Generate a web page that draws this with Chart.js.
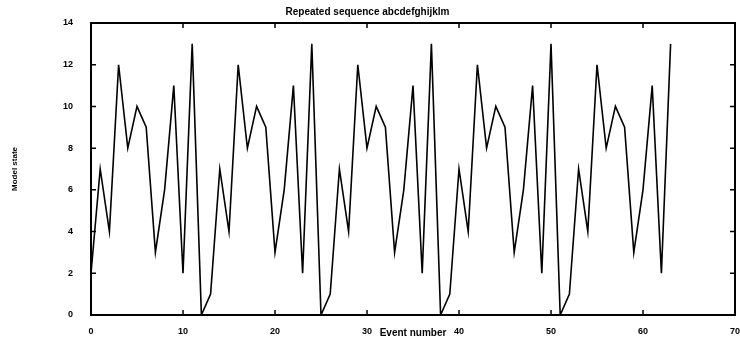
<!DOCTYPE html>
<html>
<head>
<meta charset="utf-8">
<script src="https://cdn.jsdelivr.net/npm/chart.js@4.4.0/dist/chart.umd.min.js"></script>
<style>
  html, body { margin: 0; padding: 0; background: #fff; }
  #wrap { width: 740px; height: 339px; }
</style>
</head>
<body>
<div id="wrap"><canvas id="seqChart"></canvas></div>
<script>
// model state after each event (sequence abcdefghijklm repeated)
const stateValues = [
    2, 7, 4, 12, 8, 10, 9, 3, 6, 11, 2, 13, 0,
    1, 7, 4, 12, 8, 10, 9, 3, 6, 11, 2, 13, 0,
    1, 7, 4, 12, 8, 10, 9, 3, 6, 11, 2, 13, 0,
    1, 7, 4, 12, 8, 10, 9, 3, 6, 11, 2, 13, 0,
    1, 7, 4, 12, 8, 10, 9, 3, 6, 11, 2, 13
];
const eventNumbers = stateValues.map((_, i) => i);
const xTicks = [0, 10, 20, 30, 40, 50, 60, 70];
const yTicks = [0, 2, 4, 6, 8, 10, 12, 14];

const FONT = "'Liberation Sans', Arial, sans-serif";

// frame + inward tick marks, like the old plot
const framePlugin = {
    id: "frame",
    afterDraw(chart) {
        const { ctx, chartArea: a, scales } = chart;
        ctx.save();
        ctx.strokeStyle = "#000";
        ctx.lineWidth = 2;
        ctx.strokeRect(a.left, a.top, a.right - a.left, a.bottom - a.top);
        ctx.lineWidth = 1.5;
        ctx.beginPath();
        xTicks.forEach(v => {
            const px = scales.x.getPixelForValue(v);
            ctx.moveTo(px, a.bottom); ctx.lineTo(px, a.bottom - 5);
            ctx.moveTo(px, a.top); ctx.lineTo(px, a.top + 5);
        });
        yTicks.forEach(v => {
            const py = scales.y.getPixelForValue(v);
            ctx.moveTo(a.left, py); ctx.lineTo(a.left + 5, py);
            ctx.moveTo(a.right, py); ctx.lineTo(a.right - 5, py);
        });
        ctx.stroke();
        ctx.restore();
    }
};

new Chart(document.getElementById("seqChart"), {
    type: "line",
    data: {
        datasets: [{
            data: eventNumbers.map((x, i) => ({ x: x, y: stateValues[i] })),
            borderColor: "#000",
            borderWidth: 1.6,
            pointRadius: 0,
            tension: 0,
            fill: false
        }]
    },
    options: {
        responsive: true,
        maintainAspectRatio: false,
        animation: false,
        layout: { padding: { left: 0, right: 5, top: 0, bottom: 0 } },
        plugins: {
            legend: { display: false },
            tooltip: { enabled: false },
            title: {
                display: true,
                text: "Repeated sequence abcdefghijklm",
                color: "#000",
                font: { family: FONT, size: 10, weight: "bold", lineHeight: 1.2 },
                padding: { top: 6, bottom: 5 }
            }
        },
        scales: {
            x: {
                type: "linear",
                min: 0, max: 70,
                afterBuildTicks: s => { s.ticks = xTicks.map(v => ({ value: v })); },
                afterFit: s => { s.height = 24; s.paddingRight = 0; },
                grid: { display: false },
                border: { display: false },
                ticks: {
                    color: "#000",
                    padding: 3,
                    maxRotation: 0,
                    font: { family: FONT, size: 9, weight: "bold" }
                },
                title: {
                    display: true,
                    text: "Event number",
                    color: "#000",
                    padding: { top: -3, bottom: 0 },
                    font: { family: FONT, size: 10, weight: "bold" }
                }
            },
            y: {
                min: 0, max: 14,
                afterBuildTicks: s => { s.ticks = yTicks.map(v => ({ value: v })); },
                afterFit: s => { s.width = 91; },
                grid: { display: false },
                border: { display: false },
                ticks: {
                    color: "#000",
                    padding: 10,
                    font: { family: FONT, size: 9, weight: "bold" }
                },
                title: {
                    display: true,
                    text: "Model state",
                    color: "#000",
                    padding: { top: 10, bottom: 0 },
                    font: { family: FONT, size: 8, weight: "bold" }
                }
            }
        }
    },
    plugins: [framePlugin]
});
</script>
</body>
</html>
